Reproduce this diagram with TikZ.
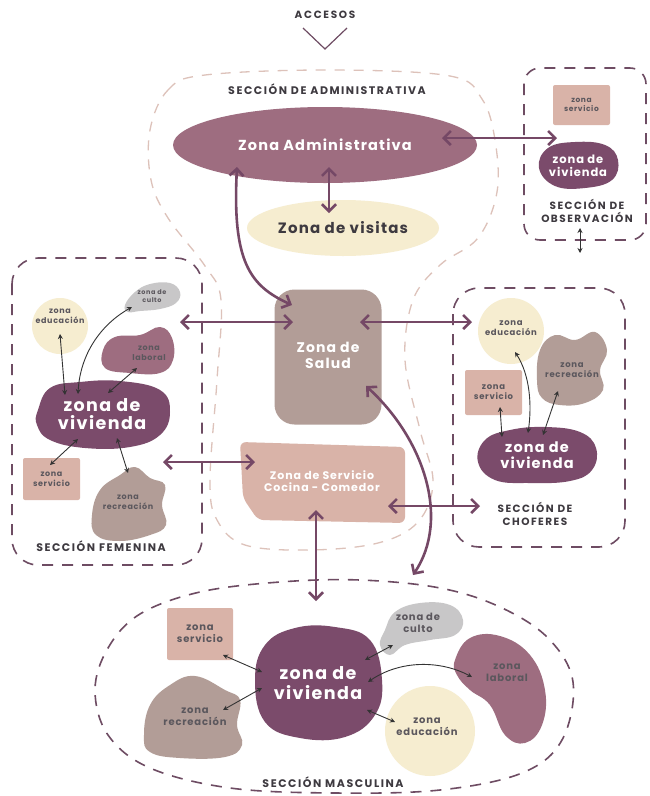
\documentclass[tikz,border=0pt]{standalone}
\usepackage{fontspec}
\setmainfont{Poppins}[LetterSpace=8]
\usetikzlibrary{shapes.geometric,arrows.meta}
\definecolor{viv}{HTML}{7B4B6B}
\definecolor{mauve}{HTML}{9E6D80}
\definecolor{taupe}{HTML}{B29D97}
\definecolor{sq}{HTML}{D9B3A8}
\definecolor{cream}{HTML}{F6EDD0}
\definecolor{grayb}{HTML}{C8C7C8}
\definecolor{arrowc}{HTML}{754866}
\definecolor{dashc}{HTML}{6E4C63}
\definecolor{lightdash}{HTML}{DDC2BA}
\definecolor{txtc}{HTML}{3E3A40}
\definecolor{smallarr}{HTML}{333333}
\newcommand\fz[2]{\fontsize{#1}{#2}\selectfont}
\begin{document}
\begin{tikzpicture}[x=1pt,y=-1pt,
  labeltxt/.style={text=txtc,font=\bfseries\fz{11}{13}\addfontfeatures{LetterSpace=14},align=center,inner sep=0},
  whitetxt/.style={text=white,font=\bfseries,align=center,inner sep=0},
  darktxt/.style={text=txtc!85,font=\bfseries,align=center,inner sep=0},
  secbox/.style={draw=dashc,line width=1.6pt,dash pattern=on 11pt off 9pt},
  lightbox/.style={draw=lightdash,line width=1.3pt,dash pattern=on 10pt off 9pt},
  bigarrow/.style={draw=arrowc,line width=2.6pt,{Straight Barb[length=7pt,width=14pt]}-{Straight Barb[length=7pt,width=14pt]}},
  smallarrow/.style={draw=smallarr,line width=0.9pt,{Stealth[length=5pt,width=5pt]}-{Stealth[length=5pt,width=5pt]}},
  sqbox/.style={rectangle,fill=sq,rounded corners=2pt,inner sep=0},
]
\fill[white] (0,0) rectangle (649,796);
\useasboundingbox (0,0) rectangle (649,796);

% light dashed outline around central zones
\draw[lightbox] plot[smooth cycle,tension=0.6] coordinates {(150,130) (168,90) (205,75) (330,70) (450,76) (482,99) (495,140) (497,192) (478,238) (440,265) (413,300) (405,360) (420,430) (433,482) (418,522) (378,543) (310,550) (245,545) (217,520) (210,480) (217,380) (221,300) (205,266) (168,218) (151,180)};

% section outlines
\draw[secbox,rounded corners=16pt] (524,68) rectangle (646,240);
\draw[secbox,rounded corners=26pt] (12,258) rectangle (202,565);
\draw[secbox,rounded corners=26pt] (453,288) rectangle (625,547);
\draw[secbox] plot[smooth cycle,tension=0.6] coordinates {(95,690) (108,648) (140,614) (200,592) (280,582) (360,580) (440,588) (500,607) (548,638) (573,682) (562,740) (522,773) (440,790) (335,793) (230,788) (150,768) (108,735)};

% ACCESOS
\node[labeltxt,font=\bfseries\fz{10.5}{12}\addfontfeatures{LetterSpace=16}] (acc) at (325,15) {ACCESOS};
\coordinate (v1) at (303,28); \coordinate (v2) at (325,49); \coordinate (v3) at (347,28);
\draw[dashc,line width=1.2pt] (v1) -- (v2) -- (v3);

% Administrativa
\node[labeltxt] (secadm) at (327,89) {SECCIÓN DE ADMINISTRATIVA};
\node[ellipse,fill=mauve,minimum width=304,minimum height=76,inner sep=0,whitetxt,font=\bfseries\fz{14.5}{16}] (adm) at (325,145) {Zona Administrativa};
\node[ellipse,fill=cream,minimum width=192,minimum height=56,inner sep=0,text=txtc,font=\bfseries\fz{15}{17}] (vis) at (343,228) {Zona de visitas};

% Salud and Servicio
\node[rectangle,rounded corners=20pt,fill=taupe,minimum width=107,minimum height=135,inner sep=0] (sal) at (328,357) {};
\node[whitetxt,font=\bfseries\fz{14}{16}] (salt) at (328,355) {Zona de\\Salud};
\fill[sq,rounded corners=6pt] (240,442) -- (405,447) -- (405,523) -- (258,520) -- (243,498) -- cycle;
\node[whitetxt,font=\bfseries\fz{11}{12}] (serv) at (322,481) {Zona de Servicio\\Cocina - Comedor};

% Observacion
\node[sqbox,minimum width=57,minimum height=40,darktxt,font=\bfseries\fz{7.5}{9}] (oserv) at (581.5,105) {zona\\servicio};
\fill[viv] plot[smooth cycle,tension=0.7] coordinates {(539,168) (548,148) (575,142) (605,145) (618,160) (612,180) (585,188) (555,186)};
\node[whitetxt,font=\bfseries\fz{11.5}{13}] (oviv) at (578,166) {zona de\\vivienda};
\node[labeltxt,font=\bfseries\fz{10.5}{12.5}\addfontfeatures{LetterSpace=14}] (secobs) at (587,211) {SECCIÓN DE\\OBSERVACIÓN};

% Femenina
\node[circle,fill=cream,minimum size=56,inner sep=0] (fedu) at (60,326) {};
\node[darktxt,font=\bfseries\fz{8}{10}] (fedut) at (60,316) {zona\\educación};
\fill[grayb] plot[smooth cycle,tension=0.7] coordinates {(125,305) (135,292) (150,284) (170,283) (180,292) (176,303) (160,309) (140,311) (128,312)};
\node[darktxt,font=\bfseries\fz{6.5}{7.5}] (fcul) at (152,296) {zona de\\culto};
\fill[mauve] plot[smooth cycle,tension=0.7] coordinates {(103,350) (115,337) (140,335) (160,327) (172,338) (173,360) (160,373) (130,373) (105,368)};
\node[darktxt,font=\bfseries\fz{8}{10}] (flab) at (149,353) {zona\\laboral};
\fill[viv] plot[smooth cycle,tension=0.7] coordinates {(38,410) (50,388) (80,382) (120,381) (160,390) (170,412) (160,435) (130,447) (85,448) (50,440) (37,425)};
\node[whitetxt,font=\bfseries\fz{17.5}{18.5}] (fviv) at (102,414) {zona de\\vivienda};
\node[sqbox,minimum width=57,minimum height=42,darktxt,font=\bfseries\fz{8}{10}] (fserv) at (51.5,479) {zona\\servicio};
\fill[taupe] plot[smooth cycle,tension=0.7] coordinates {(92,515) (100,490) (120,475) (135,467) (150,478) (165,485) (162,505) (166,525) (150,535) (120,541) (96,535)};
\node[darktxt,font=\bfseries\fz{8}{10}] (frec) at (128,502) {zona\\recreación};
\node[labeltxt] (secfem) at (101,546) {SECCIÓN FEMENINA};

% Choferes
\node[circle,fill=cream,minimum size=66,inner sep=0] (cedu) at (511,331) {};
\node[darktxt,font=\bfseries\fz{8.5}{10}] (cedut) at (511,328) {zona\\educación};
\fill[taupe] plot[smooth cycle,tension=0.7] coordinates {(537,380) (540,350) (555,335) (575,340) (595,332) (607,350) (600,370) (603,390) (585,403) (560,405) (542,398)};
\node[darktxt,font=\bfseries\fz{8.5}{10}] (crec) at (572,370) {zona\\recreación};
\node[sqbox,minimum width=57,minimum height=45,darktxt,font=\bfseries\fz{8.5}{10}] (cserv) at (493.5,392.5) {zona\\servicio};
\fill[viv] plot[smooth cycle,tension=0.7] coordinates {(478,462) (485,440) (510,430) (545,427) (580,432) (596,448) (592,470) (570,481) (530,483) (495,480)};
\node[whitetxt,font=\bfseries\fz{14.5}{15.5}] (cviv) at (537,455) {zona de\\vivienda};
\node[labeltxt,font=\bfseries\fz{10.5}{12.5}\addfontfeatures{LetterSpace=14}] (secch) at (535,514) {SECCIÓN DE\\CHOFERES};

% Masculina
\node[sqbox,minimum width=66,minimum height=52,darktxt,font=\bfseries\fz{10}{12}] (mserv) at (200,634) {zona\\servicio};
\fill[grayb] plot[smooth cycle,tension=0.7] coordinates {(380,645) (385,630) (395,612) (420,603) (450,605) (463,620) (455,635) (430,640) (405,645) (390,655)};
\node[darktxt,font=\bfseries\fz{10}{12}] (mcul) at (418,623) {zona de\\culto};
\fill[viv] plot[smooth cycle,tension=0.7] coordinates {(255,680) (265,645) (295,628) (335,627) (370,640) (382,680) (375,715) (345,737) (300,738) (265,722)};
\node[whitetxt,font=\bfseries\fz{17.5}{20}] (mviv) at (318,683) {zona de\\vivienda};
\fill[mauve] plot[smooth cycle,tension=0.7] coordinates {(455,660) (470,638) (500,636) (530,655) (545,690) (542,725) (525,743) (505,735) (490,705) (470,690) (457,675)};
\node[darktxt,font=\bfseries\fz{10}{12}] (mlab) at (507,673) {zona\\laboral};
\fill[taupe] plot[smooth cycle,tension=0.7] coordinates {(144,735) (150,705) (170,685) (195,676) (225,690) (240,700) (237,725) (242,745) (225,757) (180,758) (150,752)};
\node[darktxt,font=\bfseries\fz{10}{12}] (mrec) at (195,717) {zona\\recreación};
\node[circle,fill=cream,minimum size=90,inner sep=0] (medu) at (430,731) {};
\node[darktxt,font=\bfseries\fz{10}{12}] (medut) at (427,727) {zona\\educación};
\node[labeltxt] (secmas) at (333,782) {SECCIÓN MASCULINA};

% big arrow endpoints
\coordinate (a1s) at (442,138); \coordinate (a1e) at (557,138);
\coordinate (a2s) at (329,167); \coordinate (a2e) at (329,213);
\coordinate (a3s) at (237,167); \coordinate (a3e) at (292,305);
\coordinate (a4s) at (180,322); \coordinate (a4e) at (293,322);
\coordinate (a5s) at (360,322); \coordinate (a5e) at (472,322);
\coordinate (a6s) at (163,462); \coordinate (a6e) at (255,462);
\coordinate (a7s) at (388,506); \coordinate (a7e) at (480,506);
\coordinate (a8s) at (316,510); \coordinate (a8e) at (316,601);
\coordinate (a9s) at (366,386); \coordinate (a9e) at (413,575);
\draw[bigarrow] (a1s) -- (a1e);
\draw[bigarrow] (a2s) -- (a2e);
\draw[bigarrow] (a3s) .. controls (232,262) and (250,286) .. (a3e);
\draw[bigarrow] (a4s) -- (a4e);
\draw[bigarrow] (a5s) -- (a5e);
\draw[bigarrow] (a6s) -- (a6e);
\draw[bigarrow] (a7s) -- (a7e);
\draw[bigarrow] (a8s) -- (a8e);
\draw[bigarrow] (a9s) .. controls (425,440) and (450,520) .. (a9e);

% small arrows
\coordinate (o1) at (580,228); \coordinate (o2) at (580,253);
\draw[smallarrow] (o1) -- (o2);
% femenina
\coordinate (f1a) at (60,334); \coordinate (f1b) at (65,395);
\coordinate (f2a) at (132,307); \coordinate (f2b) at (78,394);
\coordinate (f3a) at (137,368); \coordinate (f3b) at (108,393);
\coordinate (f4a) at (78,439); \coordinate (f4b) at (50,465);
\coordinate (f5a) at (117,438); \coordinate (f5b) at (128,473);
\draw[smallarrow] (f1a) -- (f1b);
\draw[smallarrow] (f2a) .. controls (100,325) and (80,355) .. (f2b);
\draw[smallarrow] (f3a) -- (f3b);
\draw[smallarrow] (f4a) -- (f4b);
\draw[smallarrow] (f5a) -- (f5b);
% choferes
\coordinate (c1a) at (500,407); \coordinate (c1b) at (502,437);
\coordinate (c2a) at (515,352); \coordinate (c2b) at (528,433);
\coordinate (c3a) at (558,391); \coordinate (c3b) at (543,435);
\draw[smallarrow] (c1a) -- (c1b);
\draw[smallarrow] (c2a) .. controls (530,375) and (532,405) .. (c2b);
\draw[smallarrow] (c3a) -- (c3b);
% masculina
\coordinate (m1a) at (223,655); \coordinate (m1b) at (262,672);
\coordinate (m2a) at (223,710); \coordinate (m2b) at (262,688);
\coordinate (m3a) at (393,645); \coordinate (m3b) at (365,660);
\coordinate (m4a) at (472,677); \coordinate (m4b) at (368,682);
\coordinate (m5a) at (395,722); \coordinate (m5b) at (367,710);
\draw[smallarrow] (m1a) -- (m1b);
\draw[smallarrow] (m2a) -- (m2b);
\draw[smallarrow] (m3a) -- (m3b);
\draw[smallarrow] (m4a) .. controls (440,660) and (400,660) .. (m4b);
\draw[smallarrow] (m5a) -- (m5b);
\end{tikzpicture}
\end{document}
